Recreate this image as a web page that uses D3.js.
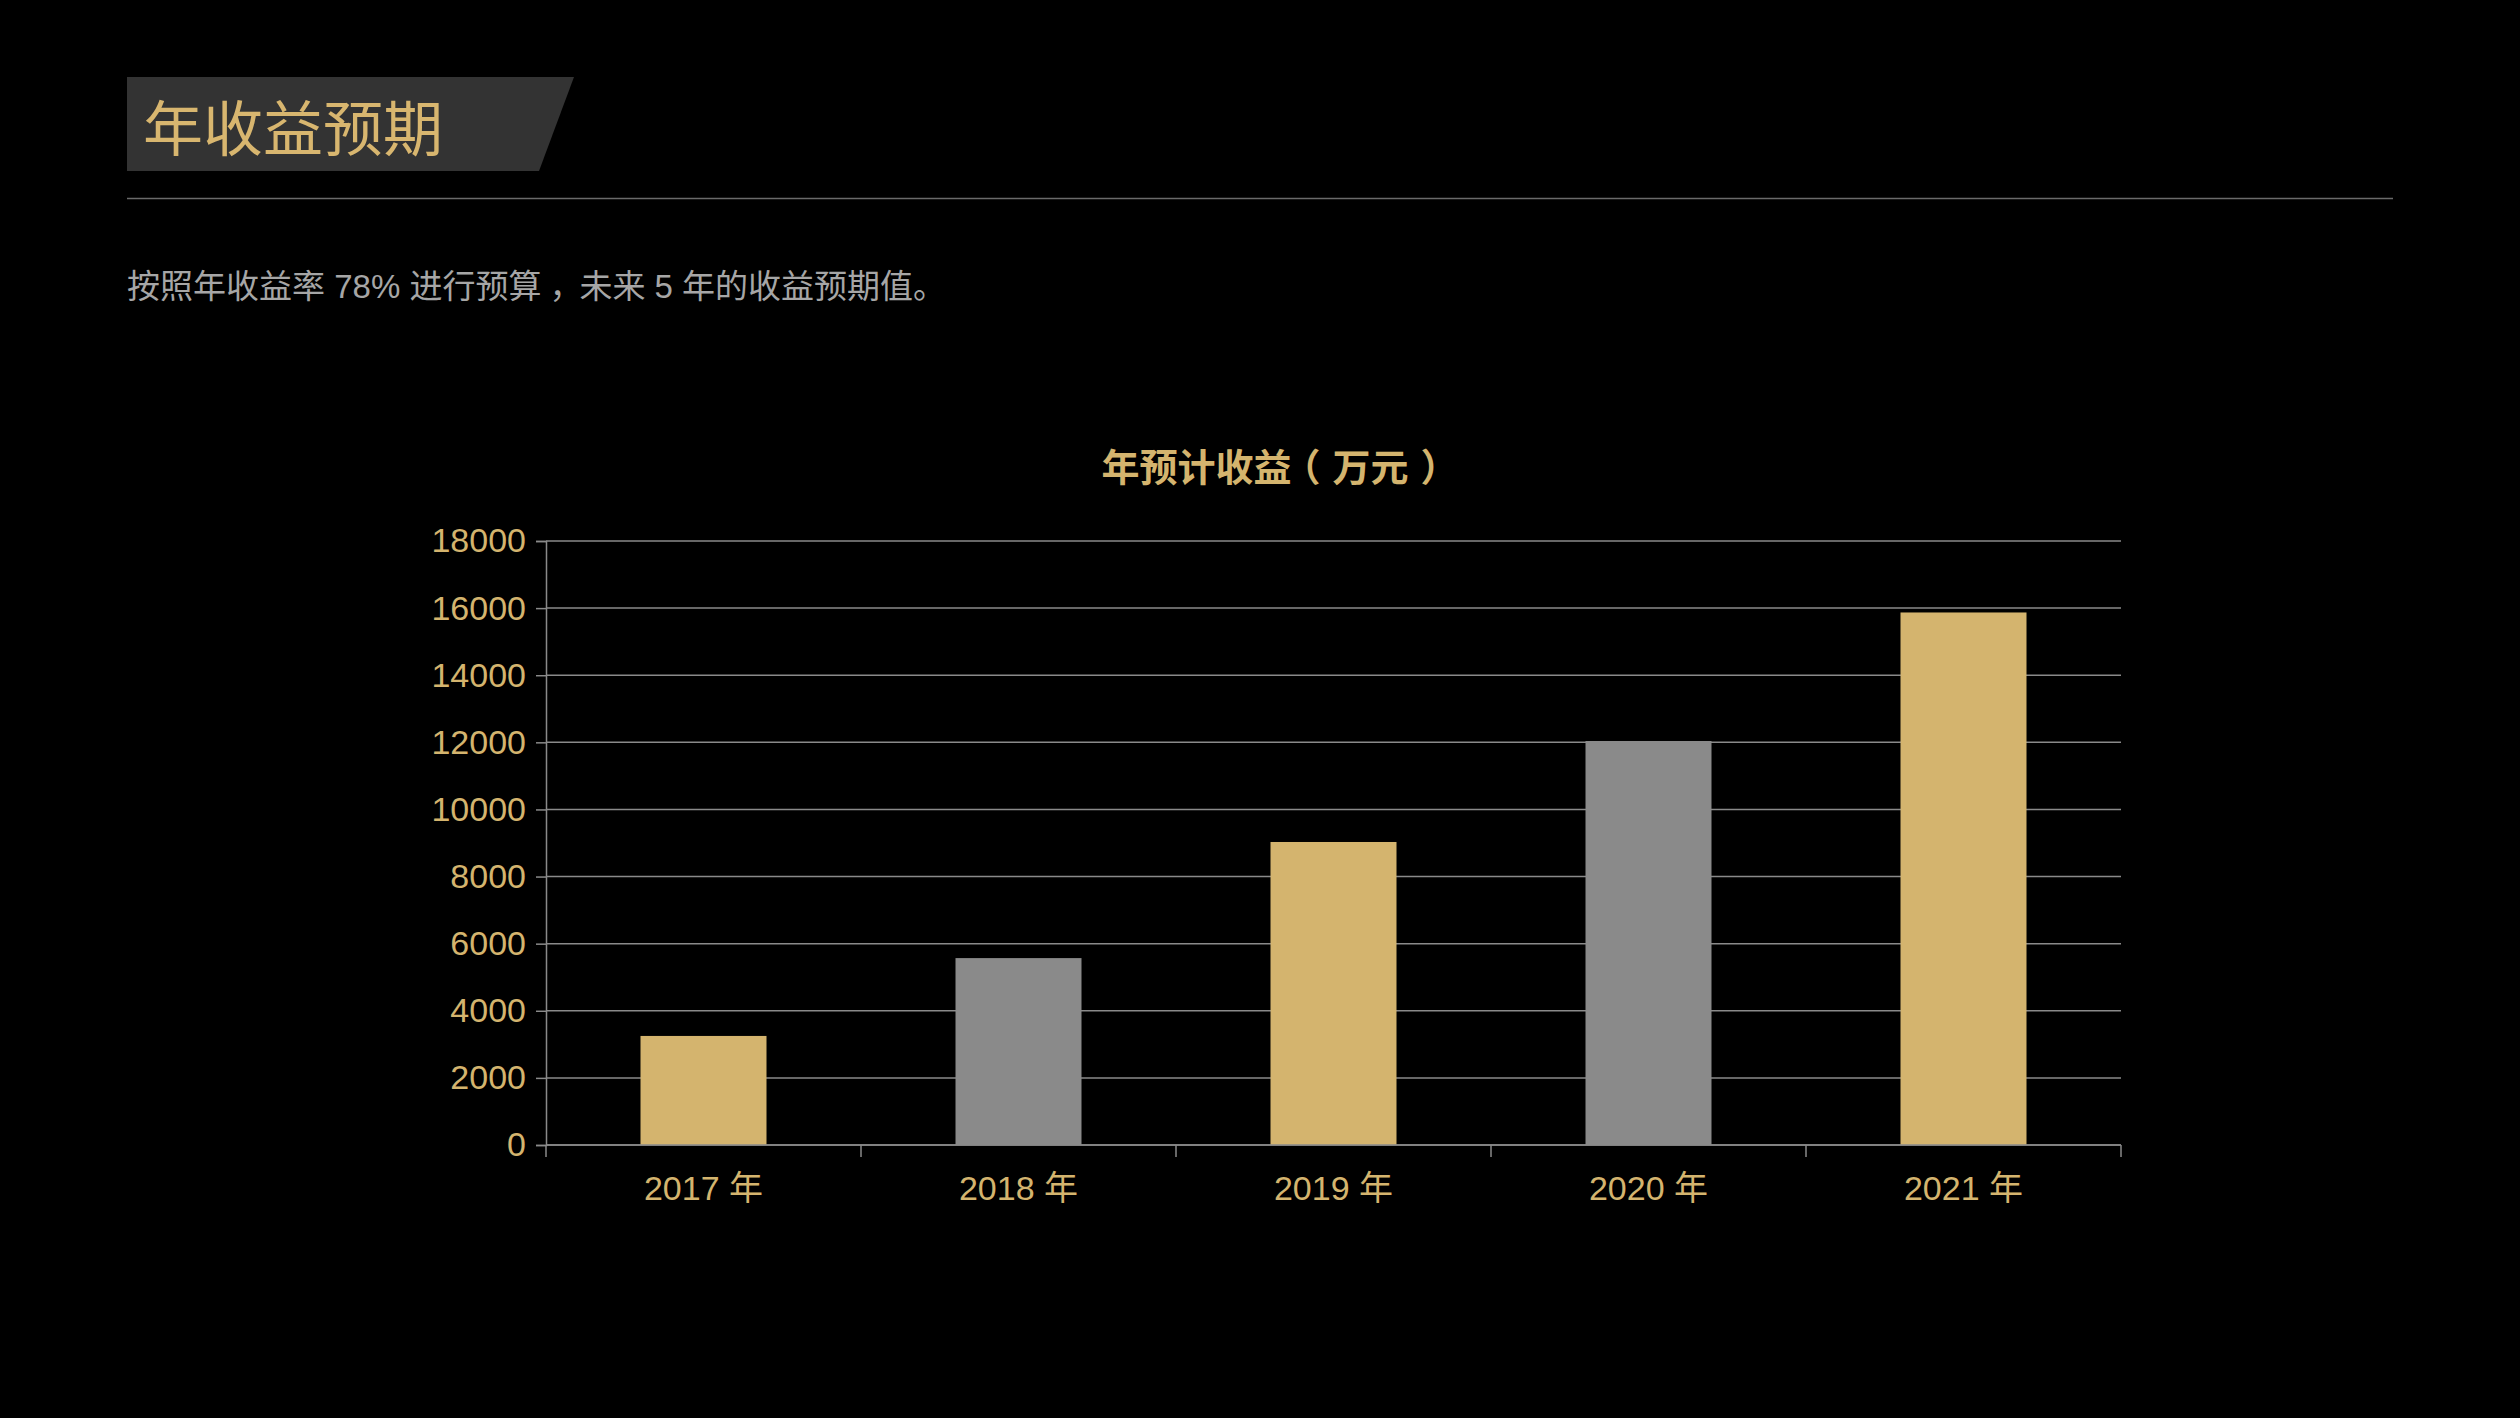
<!DOCTYPE html>
<html>
<head>
<meta charset="utf-8">
<script src="https://cdn.jsdelivr.net/npm/d3@7"></script>
<style>
  body { margin: 0; background: #000; }
  svg { display: block; }
</style>
</head>
<body>
<script>
// data
const years = ["2017 年", "2018 年", "2019 年", "2020 年", "2021 年"]
const income = [3250, 5570, 9030, 12040, 15870]
const yTicks = [0, 2000, 4000, 6000, 8000, 10000, 12000, 14000, 16000, 18000]
const barColors = ["#D4B46E", "#8A8A8A"]

const w = 2520
const h = 1418
const gold = "#D4B46E"
const fontLatin = "'Liberation Sans', 'Noto Sans CJK SC', sans-serif"
const fontCJK = "'Noto Sans CJK SC', sans-serif"

const svg = d3.select("body")
  .append("svg")
  .attr("width", w)
  .attr("height", h)
  .style("background-color", "#000")

// header box with slanted right edge
svg.append("path")
  .attr("d", "M127,77 L574,77 L539,171 L127,171 Z")
  .attr("fill", "#333333")

svg.append("text")
  .attr("x", 143)
  .attr("y", 124)
  .attr("dominant-baseline", "central")
  .style("font-family", fontCJK)
  .style("font-size", "60px")
  .style("fill", "#D8B66F")
  .text("年收益预期")

svg.append("line")
  .attr("x1", 127).attr("x2", 2393)
  .attr("y1", 198.5).attr("y2", 198.5)
  .attr("stroke", "#6A6A6A")
  .attr("stroke-width", 1.5)

// the comma sits centred in its cell on the slide
svg.append("text")
  .attr("x", 127)
  .attr("y", 286)
  .attr("dx", "0 0 0 0 0 0 0 0 0 0 0 0 0 0 0 8 -3")
  .attr("dominant-baseline", "central")
  .style("font-family", fontLatin)
  .style("font-size", "33px")
  .style("fill", "#A6A6A6")
  .text("按照年收益率 78% 进行预算，未来 5 年的收益预期值。")

// chart area
const plotLeft = 546, plotRight = 2121, plotTop = 541, plotBottom = 1145

const xScale = d3.scaleBand()
  .domain(years)
  .range([plotLeft, plotRight])
  .paddingInner(0.6)
  .paddingOuter(0.3)

const yScale = d3.scaleLinear()
  .domain([0, 18000])
  .range([plotBottom, plotTop])

// brackets centred in their cells like the slide
svg.append("text")
  .attr("x", 1280)
  .attr("y", 464)
  .attr("dx", "0 0 0 0 0 -9 12 0 12")
  .attr("text-anchor", "middle")
  .attr("dominant-baseline", "central")
  .style("font-family", fontCJK)
  .style("font-weight", "bold")
  .style("font-size", "38px")
  .style("fill", gold)
  .text("年预计收益（万元）")

//gridlines
svg.append("g")
  .selectAll("line")
  .data(yTicks)
  .enter()
  .append("line")
  .attr("x1", plotLeft).attr("x2", plotRight)
  .attr("y1", d => yScale(d)).attr("y2", d => yScale(d))
  .attr("stroke", "#8A8A8A")
  .attr("stroke-width", 1.5)

//bars
svg.selectAll("rect.bar")
  .data(income)
  .enter()
  .append("rect")
  .attr("class", "bar")
  .attr("x", (d, i) => xScale(years[i]))
  .attr("y", d => yScale(d))
  .attr("width", xScale.bandwidth())
  .attr("height", d => plotBottom - yScale(d))
  .style("fill", (d, i) => barColors[i % 2])

//Y-Axis
const yAxis = d3.axisLeft(yScale)
  .tickValues(yTicks)
  .tickSize(10)
  .tickPadding(10)
  .tickFormat(d => d)

const gy = svg.append("g")
  .attr("transform", "translate(" + plotLeft + ", 0)")
  .call(yAxis)
gy.select(".domain").attr("stroke", "#8A8A8A").attr("stroke-width", 1.5)
gy.selectAll(".tick line").attr("stroke", "#8A8A8A").attr("stroke-width", 1.5)
gy.selectAll("text")
  .style("font-family", fontLatin)
  .style("font-size", "34px")
  .style("fill", gold)

//X-Axis (labels at band centres, ticks on band edges)
const xAxis = d3.axisBottom(xScale)
  .tickSize(0)
  .tickPadding(31)

const gx = svg.append("g")
  .attr("transform", "translate(0, " + plotBottom + ")")
  .call(xAxis)
gx.select(".domain").remove()
gx.selectAll("text")
  .style("font-family", fontLatin)
  .style("font-size", "34px")
  .style("fill", gold)

const edges = years.map(d => xScale(d) - xScale.step() * xScale.paddingInner() / 2)
edges.push(plotRight)
gx.selectAll("line.edge")
  .data(edges)
  .enter()
  .append("line")
  .attr("class", "edge")
  .attr("x1", d => d).attr("x2", d => d)
  .attr("y1", 0).attr("y2", 12)
  .attr("stroke", "#8A8A8A")
  .attr("stroke-width", 1.5)

gx.append("line")
  .attr("x1", plotLeft).attr("x2", plotRight)
  .attr("y1", 0).attr("y2", 0)
  .attr("stroke", "#8A8A8A")
  .attr("stroke-width", 1.5)
</script>
</body>
</html>
